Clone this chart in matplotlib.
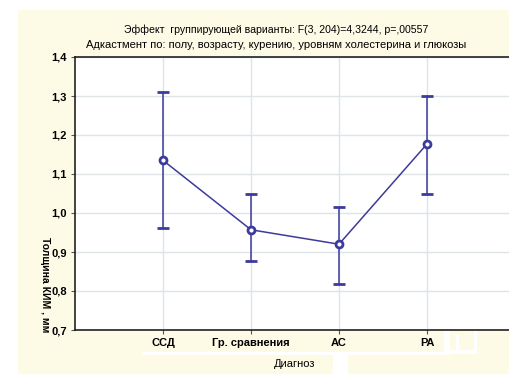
import matplotlib
matplotlib.use("Agg")
import matplotlib.pyplot as plt
from matplotlib.patches import Rectangle

# group means and 95% CI bounds of the IMT thickness
groups = ["ССД", "Гр. сравнения", "АС", "РА"]
means = [1.135, 0.957, 0.920, 1.177]
upper = [1.310, 1.050, 1.015, 1.300]
lower = [0.962, 0.876, 0.818, 1.050]
yticks = [0.7, 0.8, 0.9, 1.0, 1.1, 1.2, 1.3, 1.4]

title_1 = "Эффект  группирующей варианты: F(3, 204)=4,3244, p=,00557"
title_2 = "Адкастмент по: полу, возрасту, курению, уровням холестерина и глюкозы"

plt.rcParams["font.family"] = ["Liberation Sans Narrow", "Liberation Sans", "DejaVu Sans"]

W, H = 509, 374
fig = plt.figure(figsize=(W / 100, H / 100), dpi=100)
fig.patch.set_facecolor("white")


def px_rect(x0, y0, w, h, color, z):
    # rectangle given in pixel coords from the top-left corner
    fig.patches.append(Rectangle((x0 / W, 1 - (y0 + h) / H), w / W, h / H,
                                 transform=fig.transFigure, facecolor=color,
                                 edgecolor="none", zorder=z))


# cream panel behind the chart, with the white seams at the bottom
px_rect(18, 10, W, H, "#fdfae6", -10)
for r in [(143, 352, 307, 3), (333, 352, 15, 22), (444, 331, 6, 24),
          (456, 335, 3, 16), (450, 350, 27, 4), (474, 331, 3, 23)]:
    px_rect(*r, "white", -9)

left, right, top, bottom = 75, 515, 57, 330
ax = fig.add_axes([left / W, 1 - bottom / H, (right - left) / W, (bottom - top) / H])
ax.set_facecolor("white")

x = list(range(1, len(groups) + 1))
yerr = [[m - lo for m, lo in zip(means, lower)], [up - m for m, up in zip(means, upper)]]
color = "#3c3a9c"
ax.errorbar(x, means, yerr=yerr, color=color, lw=1.1, elinewidth=1.1, capsize=4,
            capthick=1.1, marker="o", markersize=5, markerfacecolor="white",
            markeredgecolor=color, markeredgewidth=2.0, zorder=3)

ax.set_xlim(0, 5)
ax.set_ylim(0.7, 1.4)
ax.set_xticks(x)
ax.set_xticklabels(groups, fontsize=8, fontweight="bold")
ax.set_yticks(yticks)
ax.set_yticklabels([f"{v:.1f}".replace(".", ",") for v in yticks], fontsize=8, fontweight="bold")
ax.tick_params(axis="both", length=3, width=0.8, color="#555555", pad=3)
ax.grid(True, color="#dfe4e6", lw=1.0, zorder=0)
ax.set_axisbelow(True)
for side in ["left", "bottom", "top"]:
    ax.spines[side].set_color("#222222")
    ax.spines[side].set_linewidth(1.2)
ax.spines["right"].set_visible(False)

fig.text(276 / W, 1 - 30 / H, title_1, ha="center", va="center", fontsize=7.6)
fig.text(276 / W, 1 - 45 / H, title_2, ha="center", va="center", fontsize=8)
fig.text(45 / W, 1 - 285 / H, "Толщина КИМ , мм", rotation=270, ha="center", va="center",
         fontsize=7.5, fontweight="bold")
fig.text(295 / W, 1 - 364 / H, "Диагноз", ha="center", va="center", fontsize=8)

fig.savefig("out.png", dpi=100)
